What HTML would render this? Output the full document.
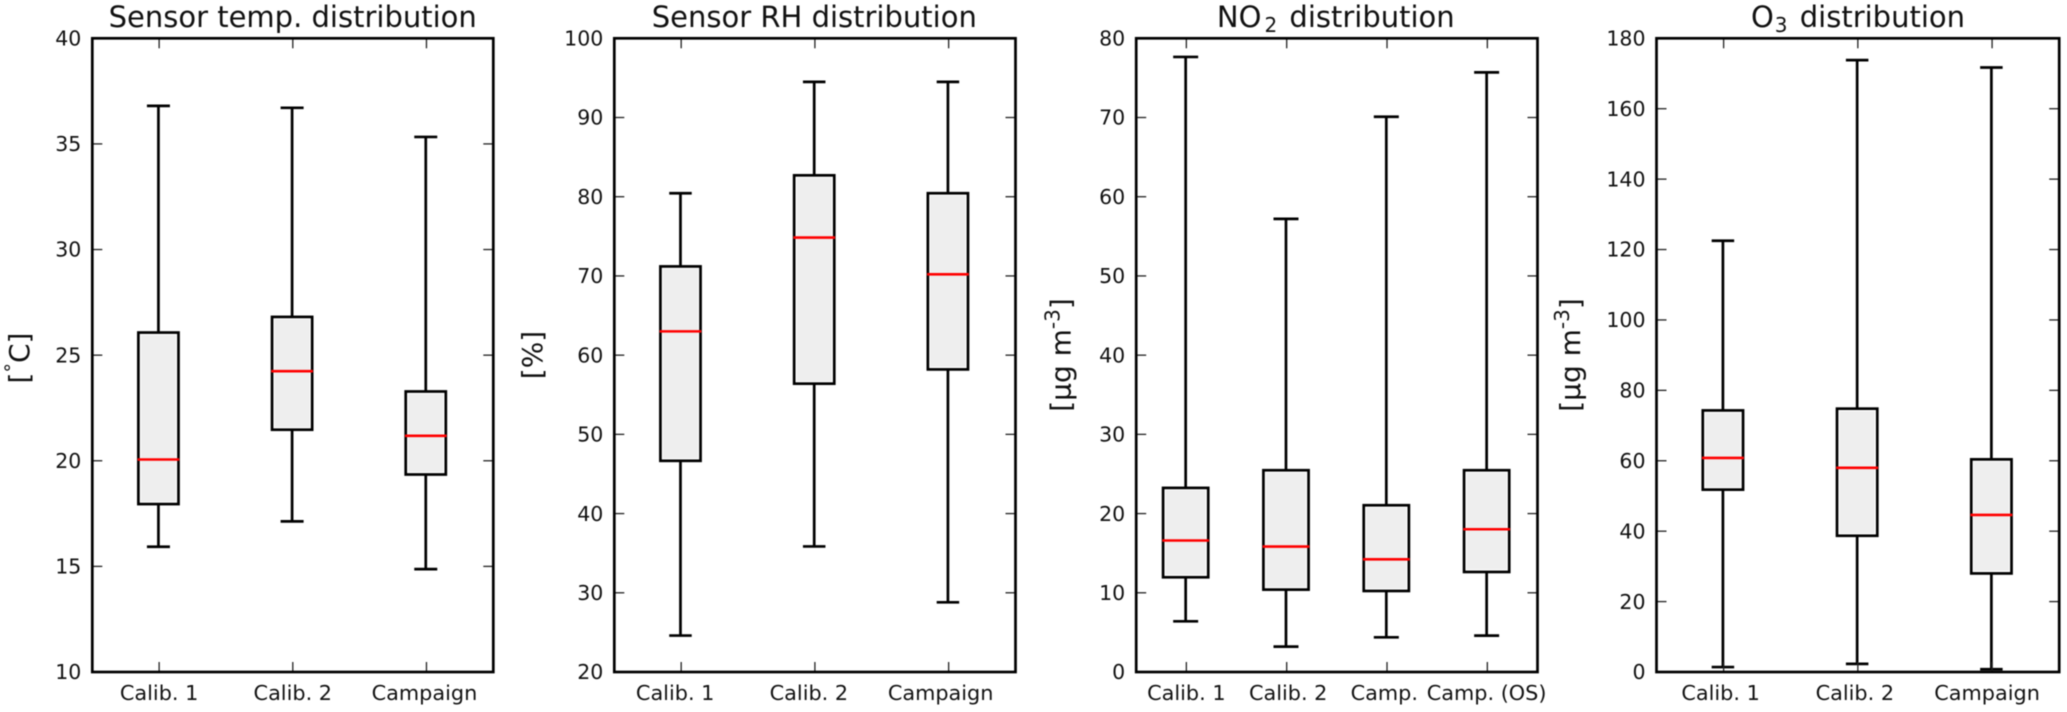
<!DOCTYPE html>
<html lang="en">
<head>
<meta charset="utf-8">
<title>Sensor and pollutant distributions</title>
<style>
  html, body { margin: 0; padding: 0; background: #fff; width: 2067px; height: 712px; overflow: hidden; }
  svg { display: block; filter: blur(0.45px); }
  text { font-family: "DejaVu Sans", "Liberation Sans", sans-serif; fill: #111; }
  .title { font-size: 29px; text-anchor: middle; }
  .ylabel { font-size: 28px; text-anchor: middle; }
  .x-label { font-size: 20.8px; }
  .y-label { font-size: 20.5px; }
</style>
</head>
<body>
<svg id="figure" xmlns="http://www.w3.org/2000/svg" width="2067" height="712" viewBox="0 0 2067 712">
  <rect x="0" y="0" width="2067" height="712" fill="#fff"/>

  <g id="panel-temp"></g>
  <g id="panel-rh"></g>
  <g id="panel-no2"></g>
  <g id="panel-o3"></g>

  <text class="title" x="292.7" y="27">Sensor temp. distribution</text>
  <text class="title" x="814.3" y="27">Sensor RH distribution</text>
  <text class="title" x="1335.8" y="27">NO<tspan font-size="20" dx="3" dy="5">2</tspan><tspan dy="-5" dx="3"> distribution</tspan></text>
  <text class="title" x="1858" y="27">O<tspan font-size="20" dx="1" dy="5">3</tspan><tspan dy="-5" dx="3"> distribution</tspan></text>

  <text class="ylabel" transform="translate(29 358) rotate(-90)">[<tspan font-size="19" dy="-11">°</tspan><tspan dy="11">C]</tspan></text>
  <text class="ylabel" transform="translate(542 355) rotate(-90)">[%]</text>
  <text class="ylabel" transform="translate(1070.5 355) rotate(-90)">[µg m<tspan font-size="20" dy="-11">-3</tspan><tspan dy="11">]</tspan></text>
  <text class="ylabel" transform="translate(1580 355) rotate(-90)">[µg m<tspan font-size="20" dy="-11">-3</tspan><tspan dy="11">]</tspan></text>
</svg>

<script>
// ---- Sensor temperature ----
const tempCategories = ['Calib. 1', 'Calib. 2', 'Campaign'];
const tempWhiskerHigh = [36.8, 36.71, 35.33];
const tempQ3 = [26.07, 26.81, 23.28];
const tempMedian = [20.06, 24.24, 21.18];
const tempQ1 = [17.95, 21.47, 19.35];
const tempWhiskerLow = [15.93, 17.13, 14.87];
const tempTicks = [10, 15, 20, 25, 30, 35, 40];

// ---- Sensor relative humidity ----
const rhCategories = ['Calib. 1', 'Calib. 2', 'Campaign'];
const rhWhiskerHigh = [80.44, 94.5, 94.5];
const rhQ3 = [71.2, 82.7, 80.44];
const rhMedian = [63.0, 74.84, 70.2];
const rhQ1 = [46.66, 56.4, 58.2];
const rhWhiskerLow = [24.6, 35.85, 28.8];
const rhTicks = [20, 30, 40, 50, 60, 70, 80, 90, 100];

// ---- NO2 ----
const no2Categories = ['Calib. 1', 'Calib. 2', 'Camp.', 'Camp. (OS)'];
const no2WhiskerHigh = [77.65, 57.2, 70.1, 75.7];
const no2Q3 = [23.24, 25.47, 21.05, 25.47];
const no2Median = [16.6, 15.83, 14.23, 18.02];
const no2Q1 = [11.96, 10.4, 10.23, 12.63];
const no2WhiskerLow = [6.4, 3.2, 4.38, 4.59];
const no2Ticks = [0, 10, 20, 30, 40, 50, 60, 70, 80];

// ---- O3 ----
const o3Categories = ['Calib. 1', 'Calib. 2', 'Campaign'];
const o3WhiskerHigh = [122.5, 173.8, 171.7];
const o3Q3 = [74.3, 74.8, 60.4];
const o3Median = [60.8, 58.0, 44.6];
const o3Q1 = [51.8, 38.7, 28.0];
const o3WhiskerLow = [1.4, 2.3, 0.8];
const o3Ticks = [0, 20, 40, 60, 80, 100, 120, 140, 160, 180];

const SVG_NS = 'http://www.w3.org/2000/svg';
const PLOT_TOP = 38.3;
const PLOT_BOTTOM = 672;
const LINE_W = 2.7;
const TICK_LEN = 10;
const MARK_SHIFT = -0.7;

function make(parent, tag, attrs) {
  const el = document.createElementNS(SVG_NS, tag);
  for (const key in attrs) el.setAttribute(key, attrs[key]);
  parent.appendChild(el);
  return el;
}

function drawPanel(panelId, left, right, boxFrac, capPx, labelNudge, categories, whiskerHigh, q3, median, q1, whiskerLow, ticks) {
  const g = document.getElementById(panelId);
  const yMin = ticks[0];
  const yMax = ticks[ticks.length - 1];
  const n = categories.length;
  const xScale = (pos) => left + (pos - 0.5) * (right - left) / n;
  const yScale = (v) => PLOT_BOTTOM - (v - yMin) * (PLOT_BOTTOM - PLOT_TOP) / (yMax - yMin);
  const unit = (right - left) / n;

  categories.forEach((label, i) => {
    const cx = xScale(i + 1) + MARK_SHIFT;
    const halfBox = boxFrac * unit / 2;

    const boxFill = make(g, 'rect', {
      x: cx - halfBox + 2.6,
      y: yScale(q3[i]) + 2.6,
      width: 2 * halfBox - 5.2,
      height: yScale(q1[i]) - yScale(q3[i]) - 5.2,
      fill: '#eeeeee'
    });
    
    

    const upperWhisker = make(g, 'line', {
      x1: cx, x2: cx, y1: yScale(whiskerHigh[i]), y2: yScale(q3[i]),
      stroke: '#000', 'stroke-width': LINE_W
    });
    
    

    const lowerWhisker = make(g, 'line', {
      x1: cx, x2: cx, y1: yScale(q1[i]), y2: yScale(whiskerLow[i]),
      stroke: '#000', 'stroke-width': LINE_W
    });
    
    

    const upperCap = make(g, 'line', {
      x1: cx - capPx / 2, x2: cx + capPx / 2, y1: yScale(whiskerHigh[i]), y2: yScale(whiskerHigh[i]),
      stroke: '#000', 'stroke-width': LINE_W
    });
    
    

    const lowerCap = make(g, 'line', {
      x1: cx - capPx / 2, x2: cx + capPx / 2, y1: yScale(whiskerLow[i]), y2: yScale(whiskerLow[i]),
      stroke: '#000', 'stroke-width': LINE_W
    });
    
    

    const boxOutline = make(g, 'rect', {
      x: cx - halfBox,
      y: yScale(q3[i]),
      width: 2 * halfBox,
      height: yScale(q1[i]) - yScale(q3[i]),
      fill: 'none', stroke: '#000', 'stroke-width': LINE_W
    });
    
    

    const medianLine = make(g, 'line', {
      x1: cx - halfBox - 0.8, x2: cx + halfBox + 0.8, y1: yScale(median[i]), y2: yScale(median[i]),
      stroke: '#ff0000', 'stroke-width': 2.6
    });
    
    

    const tickX = xScale(i + 1);
    const bottomTick = make(g, 'line', {
      x1: tickX, x2: tickX, y1: PLOT_BOTTOM, y2: PLOT_BOTTOM - TICK_LEN,
      stroke: '#222', 'stroke-width': 1.3
    });
    
    

    const topTick = make(g, 'line', {
      x1: tickX, x2: tickX, y1: PLOT_TOP, y2: PLOT_TOP + TICK_LEN,
      stroke: '#222', 'stroke-width': 1.3
    });
    
    

    const xLabel = make(g, 'text', {
      class: 'x-label', x: tickX + labelNudge[i], y: 700, 'text-anchor': 'middle'
    });
    xLabel.textContent = label;
    
    
  });

  ticks.forEach((t) => {
    const y = yScale(t);

    const leftTick = make(g, 'line', {
      x1: left, x2: left + TICK_LEN, y1: y, y2: y,
      stroke: '#222', 'stroke-width': 1.3
    });
    
    

    const rightTick = make(g, 'line', {
      x1: right, x2: right - TICK_LEN, y1: y, y2: y,
      stroke: '#222', 'stroke-width': 1.3
    });
    
    

    const yLabel = make(g, 'text', {
      class: 'y-label', x: left - 11, y: y + 7.2, 'text-anchor': 'end'
    });
    yLabel.textContent = String(t);
    
    
  });

  const frame = make(g, 'rect', {
    x: left, y: PLOT_TOP, width: right - left, height: PLOT_BOTTOM - PLOT_TOP,
    fill: 'none', stroke: '#000', 'stroke-width': LINE_W
  });
  
  
}

drawPanel('panel-temp', 92.3, 493.3, 0.3, 23, [0, 0, -2], tempCategories, tempWhiskerHigh, tempQ3, tempMedian, tempQ1, tempWhiskerLow, tempTicks);
drawPanel('panel-rh', 614.3, 1015.5, 0.3, 22.5, [-6, -6, -8], rhCategories, rhWhiskerHigh, rhQ3, rhMedian, rhQ1, rhWhiskerLow, rhTicks);
drawPanel('panel-no2', 1136.2, 1537.5, 0.45, 25, [0, 1.5, -2.7, -0.7], no2Categories, no2WhiskerHigh, no2Q3, no2Median, no2Q1, no2WhiskerLow, no2Ticks);
drawPanel('panel-o3', 1656.5, 2059.2, 0.3, 22.5, [-3, -3, -5], o3Categories, o3WhiskerHigh, o3Q3, o3Median, o3Q1, o3WhiskerLow, o3Ticks);
</script>
</body>
</html>
